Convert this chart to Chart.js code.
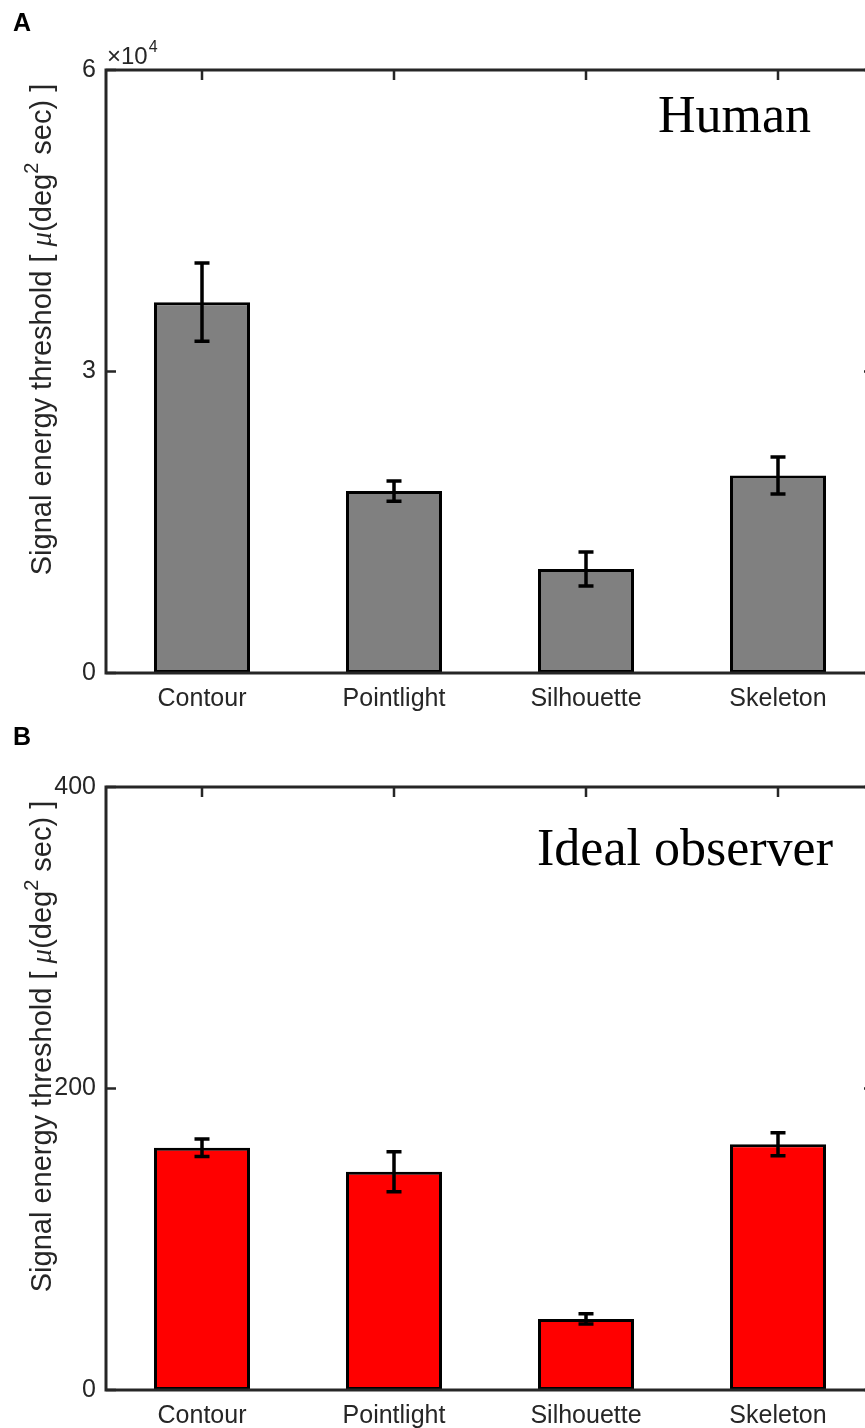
<!DOCTYPE html>
<html>
<head>
<meta charset="utf-8">
<script src="https://cdn.jsdelivr.net/npm/chart.js@4.4.1/dist/chart.umd.min.js"></script>
<style>
  html, body { margin: 0; padding: 0; background: #fff; overflow: hidden; width: 865px; height: 1428px; }
  .panel { width: 880px; height: 714px; }
  canvas { display: block; }
</style>
</head>
<body>
<div class="panel"><canvas id="humanChart" width="880" height="714"></canvas></div>
<div class="panel"><canvas id="idealChart" width="880" height="714"></canvas></div>

<script>
// values
const categories = ['Contour', 'Pointlight', 'Silhouette', 'Skeleton'];

const humanThreshold = [36900, 18100, 10350, 19650];
const humanError = [3900, 1000, 1700, 1850];
const humanTicks = [0, 30000, 60000];

const idealThreshold = [160.7, 144.8, 47.1, 163.0];
const idealError = [5.8, 13.3, 3.4, 7.6];
const idealTicks = [0, 200, 400];

const AXIS_COLOR = '#262626';
const SANS = '"Liberation Sans", Arial, sans-serif';
const SERIF = '"Liberation Serif", "Times New Roman", serif';

// MATLAB-like axes: box, inward ticks, error bars, labels
const matlabAxes = {
    id: 'matlabAxes',
    beforeDatasetsDraw(chart, args, opts) {
        const { ctx, chartArea: a, scales } = chart;
        ctx.save();
        ctx.strokeStyle = AXIS_COLOR;
        ctx.lineWidth = 2.5;
        ctx.beginPath();
        categories.forEach((c, i) => {
            const x = scales.x.getPixelForValue(i);
            ctx.moveTo(x, a.top); ctx.lineTo(x, a.top + 10);
            ctx.moveTo(x, a.bottom); ctx.lineTo(x, a.bottom - 10);
        });
        opts.ticks.forEach(v => {
            const y = scales.y.getPixelForValue(v);
            ctx.moveTo(a.left, y); ctx.lineTo(a.left + 10, y);
            ctx.moveTo(a.right, y); ctx.lineTo(a.right - 10, y);
        });
        ctx.stroke();
        ctx.restore();
    },
    afterDatasetsDraw(chart, args, opts) {
        const { ctx, chartArea: a, scales } = chart;
        ctx.save();

        // error bars
        ctx.strokeStyle = '#000';
        ctx.lineWidth = 3.5;
        ctx.beginPath();
        opts.values.forEach((v, i) => {
            const x = scales.x.getPixelForValue(i);
            const hi = scales.y.getPixelForValue(v + opts.errors[i]);
            const lo = scales.y.getPixelForValue(v - opts.errors[i]);
            ctx.moveTo(x, hi); ctx.lineTo(x, lo);
            ctx.moveTo(x - 7.5, hi); ctx.lineTo(x + 7.5, hi);
            ctx.moveTo(x - 7.5, lo); ctx.lineTo(x + 7.5, lo);
        });
        ctx.stroke();

        // box
        ctx.strokeStyle = AXIS_COLOR;
        ctx.lineWidth = 3;
        ctx.strokeRect(a.left, a.top, a.right - a.left, a.bottom - a.top);

        ctx.fillStyle = '#000';
        // panel letter
        ctx.font = 'bold 25px ' + SANS;
        ctx.textAlign = 'left';
        ctx.textBaseline = 'alphabetic';
        ctx.fillText(opts.letter, 13, 31);

        // panel title
        ctx.font = '52px ' + SERIF;
        ctx.textAlign = 'right';
        ctx.fillText(opts.title, opts.titleX, opts.titleY);

        // exponent
        if (opts.exponent) {
            ctx.textAlign = 'left';
            ctx.fillStyle = AXIS_COLOR;
            ctx.font = '24px ' + SANS;
            ctx.fillText('\u00d710', 107, 64);
            const w = ctx.measureText('\u00d710').width;
            ctx.font = '16px ' + SANS;
            ctx.fillText(opts.exponent, 107 + w + 1, 52);
        }

        // y axis title, rotated
        const parts = [
            ['Signal energy threshold [ ', '29px ' + SANS, 0],
            ['\u03bc', 'italic 29px ' + SERIF, 0],
            ['(deg', '29px ' + SANS, 0],
            ['2', '20px ' + SANS, -13],
            [' sec) ]', '29px ' + SANS, 0]
        ];
        let total = 0;
        parts.forEach(p => { ctx.font = p[1]; total += ctx.measureText(p[0]).width; });
        ctx.translate(51, (a.top + a.bottom) / 2 - 42);
        ctx.rotate(-Math.PI / 2);
        ctx.fillStyle = AXIS_COLOR;
        ctx.textAlign = 'left';
        let x = -total / 2;
        parts.forEach(p => {
            ctx.font = p[1];
            ctx.fillText(p[0], x, p[2]);
            x += ctx.measureText(p[0]).width;
        });
        ctx.restore();
    }
};

function makeChart(id, values, errors, ticks, color, extra) {
    const ctx = document.getElementById(id).getContext('2d');
    return new Chart(ctx, {
        type: 'bar',
        data: {
            labels: categories,
            datasets: [{
                data: values,
                backgroundColor: color,
                borderColor: '#000',
                borderWidth: 3,
                borderSkipped: false,
                barPercentage: 0.5,
                categoryPercentage: 1.0
            }]
        },
        options: {
            responsive: false,
            animation: false,
            layout: { padding: { left: 0, top: extra.top, right: 6, bottom: 0 } },
            plugins: {
                legend: { display: false },
                tooltip: { enabled: false },
                matlabAxes: Object.assign({ values: values, errors: errors, ticks: ticks }, extra)
            },
            scales: {
                x: {
                    grid: { display: false, drawTicks: false },
                    border: { display: false },
                    ticks: { color: AXIS_COLOR, font: { family: SANS, size: 25 }, padding: 11 },
                    afterFit: s => { s.height = extra.xHeight; }
                },
                y: {
                    min: ticks[0],
                    max: ticks[ticks.length - 1],
                    afterBuildTicks: s => { s.ticks = ticks.map(v => ({ value: v })); },
                    grid: { display: false, drawTicks: false },
                    border: { display: false },
                    ticks: {
                        color: AXIS_COLOR,
                        font: { family: SANS, size: 25 },
                        padding: 10,
                        callback: v => extra.exponent ? v / 1e4 : v
                    },
                    afterFit: s => { s.width = 106; }
                }
            }
        },
        plugins: [matlabAxes]
    });
}

makeChart('humanChart', humanThreshold, humanError, humanTicks, '#808080',
    { letter: 'A', title: 'Human', titleX: 811, titleY: 132, exponent: '4', top: 70, xHeight: 41 });
makeChart('idealChart', idealThreshold, idealError, idealTicks, '#ff0000',
    { letter: 'B', title: 'Ideal observer', titleX: 833, titleY: 151, exponent: null, top: 73, xHeight: 38 });
</script>
</body>
</html>
